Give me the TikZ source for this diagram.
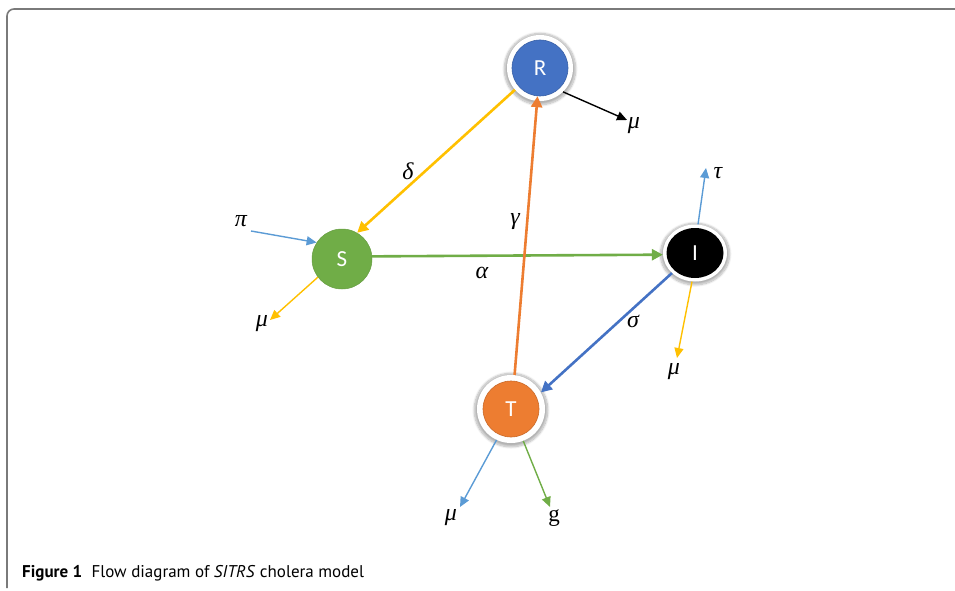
\documentclass[tikz,border=0pt]{standalone}
\usepackage{fontspec}
\setmainfont{PT Sans}
\newfontfamily\nodefont{Carlito}
\newfontfamily\serifg{Liberation Serif}
\usetikzlibrary{arrows.meta,shapes.geometric,shadows.blur}
\definecolor{cgold}{RGB}{255,192,0}
\definecolor{cgreen}{RGB}{112,173,71}
\definecolor{corange}{RGB}{237,125,49}
\definecolor{cblue}{RGB}{68,114,196}
\definecolor{clblue}{RGB}{91,155,213}
\definecolor{cframe}{RGB}{122,122,122}
\begin{document}
\begin{tikzpicture}[x=1pt,y=-1pt,
  conn/.style={line width=2.6pt,-{Triangle[length=11pt,width=11pt]}},
  thinarr/.style={line width=1.4pt,-{Triangle[length=10pt,width=9pt]}},
  lbl/.style={font=\serifg\itshape\fontsize{24}{24}\selectfont,inner sep=0pt},
  ring/.style={fill=white,inner sep=0pt,blur shadow={shadow blur steps=10,shadow xshift=0pt,shadow yshift=-1pt,shadow scale=1.08,shadow opacity=30}},
  ball/.style={circle,inner sep=0pt,text=white,font=\nodefont\fontsize{23}{23}\selectfont}]
\useasboundingbox (0,0) rectangle (955,591);
% frame
\draw[cframe,line width=1.6pt,rounded corners=7pt] (955,9) -- (7,9) -- (7,588);
% nodes
\node[ring,circle,minimum size=66pt] (R) at (540,68) {};
\node[ball,minimum size=56pt,fill=cblue,draw=cblue!85!black,line width=0.6pt] (Rin) at (R) {R};
\node[ball,minimum size=60pt,fill=cgreen,draw=cgreen!90!black,line width=0.5pt] (S) at (342,259) {S};
\node[ring,ellipse,minimum width=64pt,minimum height=57pt] (I) at (695,253) {};
\node[ellipse,inner sep=0pt,minimum width=57pt,minimum height=50pt,fill=black,text=white,font=\nodefont\fontsize{23}{23}\selectfont] (Iin) at (I) {I};
\node[ring,circle,minimum size=68pt] (T) at (511,409) {};
\node[ball,minimum size=56pt,fill=corange,draw=corange!85!black,line width=0.6pt] (Tin) at (T) {T};
% main connectors
\draw[conn,cgold] (R.221) -- (S.60);
\draw[conn,cgreen] (S.5) -- (I.183);
\draw[conn,corange] (T.84) -- (Rin.265);
\draw[conn,cblue] (I.221) -- (T.29);
% labels of main connectors
\node[lbl] (delta) at (408,171) {δ};
\node[lbl] (alpha) at (482,273) {α};
\node[lbl] (gamma) at (515,222) {γ};
\node[lbl] (sigma) at (633,321) {σ};
% outflows / inflows
\node[lbl] (muR) at (634,126) {μ};
\coordinate (muRc) at (627,120);
\draw[thinarr,black] (R.-46) -- (muRc);
\node[lbl] (pi) at (241,221) {π};
\coordinate (pic) at (251,231);
\draw[thinarr,clblue] (pic) -- (S.147);
\node[lbl] (muS) at (262,324) {μ};
\coordinate (muSc) at (270,320);
\draw[thinarr,cgold] (S.217) -- (muSc);
\node[lbl] (tau) at (718,173) {τ};
\coordinate (tauc) at (706,168);
\draw[thinarr,clblue] (I.84) -- (tauc);
\node[lbl] (muI) at (674,372) {μ};
\coordinate (muIc) at (677,358);
\draw[thinarr,cgold] (I.264) -- (muIc);
\node[lbl] (muT) at (451,518) {μ};
\coordinate (muTc) at (460,507);
\draw[thinarr,clblue] (T.245) -- (muTc);
\node[lbl,font=\serifg\fontsize{23}{23}\selectfont] (g) at (554,518) {g};
\coordinate (gc) at (550,507);
\draw[thinarr,cgreen] (T.291) -- (gc);
% caption
\node[anchor=base west,inner sep=0pt,font=\fontsize{17}{17}\selectfont] (cap) at (22,577) {\textbf{Figure 1}\hspace{0.55em}Flow diagram of \textit{SITRS} cholera model};
\end{tikzpicture}
\end{document}
